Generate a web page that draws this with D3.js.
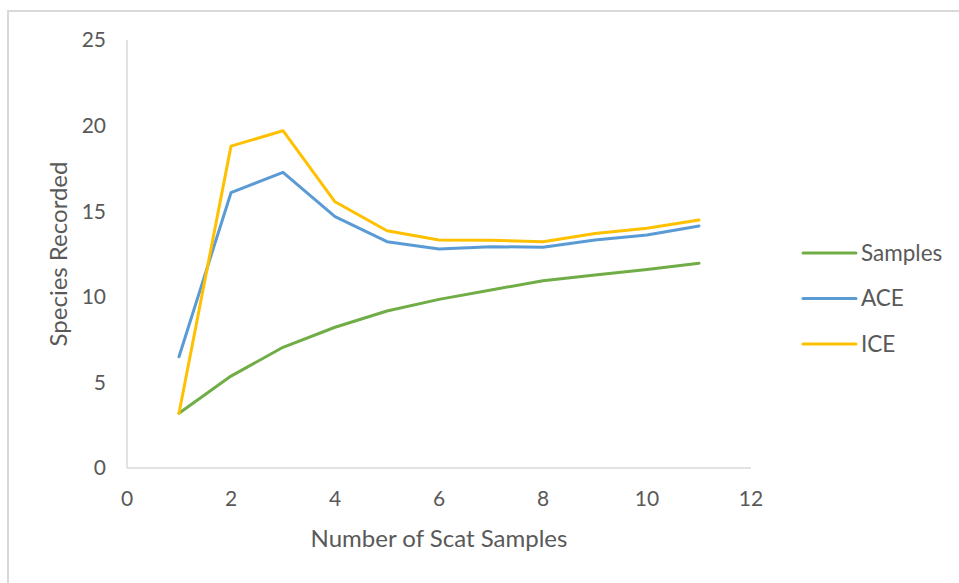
<!DOCTYPE html>
<html>
<head>
<meta charset="utf-8">
<script src="https://cdn.jsdelivr.net/npm/d3@7"></script>
<style>
  html, body { margin: 0; padding: 0; background: #fff; }
  svg { display: block; font-family: Lato, "Open Sans", sans-serif; }
</style>
</head>
<body>
<svg id="chart" width="959" height="583"></svg>
<script>
// ---- data ----
const samples = [1, 2, 3, 4, 5, 6, 7, 8, 9, 10, 11];
const seriesNames = ['Samples', 'ACE', 'ICE'];
const samplesVals = [3.2, 5.37, 7.05, 8.22, 9.17, 9.85, 10.4, 10.94, 11.27, 11.6, 11.96];
const aceVals     = [6.5, 16.08, 17.27, 14.68, 13.22, 12.79, 12.93, 12.89, 13.32, 13.61, 14.14];
const iceVals     = [3.2, 18.8, 19.7, 15.55, 13.86, 13.32, 13.3, 13.22, 13.7, 14.0, 14.49];
const xTicks = [0, 2, 4, 6, 8, 10, 12];
const yTicks = [0, 5, 10, 15, 20, 25];

const colors = { Samples: '#70ad47', ACE: '#5b9bd5', ICE: '#ffc000' };
const series = [
  { name: 'Samples', values: samplesVals },
  { name: 'ACE', values: aceVals },
  { name: 'ICE', values: iceVals },
];

const svg = d3.select('#chart');

// outer frame (only top + left visible)
svg.append('rect').attr('x', 8).attr('y', 11).attr('width', 1000).attr('height', 700)
  .attr('fill', 'none').attr('stroke', '#d9d9d9').attr('stroke-width', 2);

const m = { l: 127, r: 751, t: 40, b: 468 };
const x = d3.scaleLinear().domain([0, 12]).range([m.l, m.r]);
const y = d3.scaleLinear().domain([0, 25]).range([m.b, m.t]);

// axis lines
svg.append('line').attr('x1', x(0)).attr('x2', x(0)).attr('y1', y(0)).attr('y2', y(25))
  .attr('stroke', '#d9d9d9').attr('stroke-width', 1.5);
svg.append('line').attr('x1', x(0)).attr('x2', x(12)).attr('y1', y(0)).attr('y2', y(0))
  .attr('stroke', '#d9d9d9').attr('stroke-width', 1.5);

// tick labels
svg.append('g').selectAll('text').data(yTicks).join('text')
  .attr('x', 106).attr('y', d => y(d)).attr('dy', '0.35em')
  .attr('text-anchor', 'end').attr('font-size', 21).attr('fill', '#595959')
  .text(d => d);
svg.append('g').selectAll('text').data(xTicks).join('text')
  .attr('x', d => x(d)).attr('y', 499).attr('dy', '0.35em')
  .attr('text-anchor', 'middle').attr('font-size', 21).attr('fill', '#595959')
  .text(d => d);

// axis titles
svg.append('text').attr('x', 439).attr('y', 539).attr('dy', '0.35em')
  .attr('text-anchor', 'middle').attr('font-size', 24).attr('fill', '#595959')
  .text('Number of Scat Samples');
svg.append('text').attr('transform', 'translate(59,254) rotate(-90)').attr('dy', '0.35em')
  .attr('text-anchor', 'middle').attr('font-size', 24).attr('fill', '#595959')
  .text('Species Recorded');

// lines
const line = d3.line().x((d, i) => x(samples[i])).y(d => y(d));
svg.append('g').selectAll('path').data(series).join('path')
  .attr('d', d => line(d.values))
  .attr('fill', 'none').attr('stroke', d => colors[d.name])
  .attr('stroke-width', 3).attr('stroke-linejoin', 'round').attr('stroke-linecap', 'round');

// legend
const lg = svg.append('g').selectAll('g').data(seriesNames).join('g')
  .attr('transform', (d, i) => `translate(803,${253 + i * 45.5})`);
lg.append('line').attr('x1', 0).attr('x2', 53).attr('y1', 0).attr('y2', 0)
  .attr('stroke', d => colors[d]).attr('stroke-width', 3).attr('stroke-linecap', 'round');
lg.append('text').attr('x', 58).attr('y', 0).attr('dy', '0.35em')
  .attr('font-size', 22.5).attr('fill', '#595959').text(d => d);
</script>
</body>
</html>
